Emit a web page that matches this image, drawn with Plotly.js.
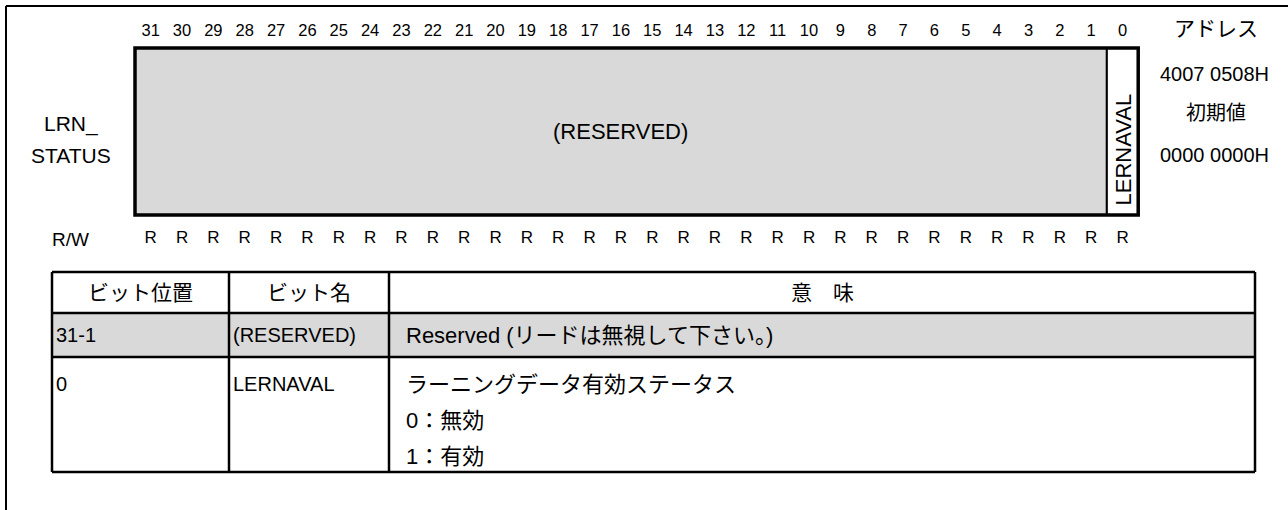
<!DOCTYPE html>
<html>
<head>
<meta charset="utf-8">
<script src="https://cdn.plot.ly/plotly-3.0.1.min.js"></script>
<style>html,body{margin:0;padding:0;background:#fff;}#chart{width:1288px;height:510px;}</style>
</head>
<body>
<div id="chart"></div>
<script>
// ---------- data ----------
const bitNumbers = [31,30,29,28,27,26,25,24,23,22,21,20,19,18,17,16,15,14,13,12,11,10,9,8,7,6,5,4,3,2,1,0];
const bitAccess  = ['R','R','R','R','R','R','R','R','R','R','R','R','R','R','R','R','R','R','R','R','R','R','R','R','R','R','R','R','R','R','R','R'];
const fieldNames    = ['(RESERVED)', 'LERNAVAL'];
const fieldHighBit  = [31, 0];
const fieldLowBit   = [1, 0];
const fieldReserved = [true, false];
const registerName  = ['LRN_', 'STATUS'];
const accessLabel   = 'R/W';
const addressLabel  = 'アドレス';
const addressValue  = '4007 0508H';
const resetLabel    = '初期値';
const resetValue    = '0000 0000H';
const tableHeader   = ['ビット位置', 'ビット名', '意　味'];
const tableBitPos   = ['31-1', '0'];
const tableBitName  = ['(RESERVED)', 'LERNAVAL'];
const tableMeaning  = [
  ['Reserved (リードは無視して下さい。)'],
  ['ラーニングデータ有効ステータス', '0：無効', '1：有効']
];
const tableRowGray  = [true, false];

// ---------- layout constants ----------
const FONT = '"Liberation Sans", Arial, "Noto Sans CJK JP", sans-serif';
const GRAY = '#d9d9d9';
const regLeft = 135, pitch = 31.35, regTop = 48, regBottom = 215;
const slotLeft = b => regLeft + (31 - b) * pitch;
const slotCenter = b => regLeft + (31 - b + 0.5) * pitch;
const colX = [52, 229, 389, 1255];
const rowY = [272, 313, 357, 472];

const shapes = [];
const annotations = [];
const txt = (x, y, text, size, extra) => annotations.push(Object.assign(
  {x:x, y:y, text:text, showarrow:false, font:{family:FONT, size:size, color:'#000'}}, extra || {}));

// outer frame (top and left edges)
shapes.push({type:'line', x0:6, y0:6, x1:1288, y1:6, line:{color:'#000', width:2}});
shapes.push({type:'line', x0:6, y0:6, x1:6, y1:510, line:{color:'#000', width:2}});

// register fields
fieldNames.forEach((name, i) => {
  const x0 = slotLeft(fieldHighBit[i]);
  const x1 = slotLeft(fieldLowBit[i]) + pitch;
  shapes.push({type:'rect', x0:x0, x1:x1, y0:regTop, y1:regBottom,
    fillcolor: fieldReserved[i] ? GRAY : '#fff', line:{color:'#000', width:2}, layer:'below'});
  const vertical = fieldHighBit[i] === fieldLowBit[i];
  if (vertical) txt((x0+x1)/2, 150, name, 22, {textangle:-90});
  else txt((x0+x1)/2, (regTop+regBottom)/2, name, 22);
});
// thick register outline
shapes.push({type:'rect', x0:slotLeft(31), x1:slotLeft(0)+pitch, y0:regTop, y1:regBottom,
  line:{color:'#000', width:3.5}, fillcolor:'rgba(0,0,0,0)'});

// register name / access label
txt(71, 124, registerName[0], 21);
txt(71, 155, registerName[1], 21);
txt(70, 239, accessLabel, 19);

// right column
txt(1216, 28, addressLabel, 21);
txt(1214, 74, addressValue, 20);
txt(1216, 113, resetLabel, 20);
txt(1214, 155, resetValue, 20);

// table
tableRowGray.forEach((g, r) => {
  if (g) shapes.push({type:'rect', x0:colX[0], x1:colX[3], y0:rowY[r+1], y1:rowY[r+2], fillcolor:GRAY, line:{width:0}, layer:'below'});
});
rowY.forEach(y => shapes.push({type:'line', x0:colX[0], x1:colX[3], y0:y, y1:y, line:{color:'#000', width:2.5}}));
colX.forEach(x => shapes.push({type:'line', x0:x, x1:x, y0:rowY[0], y1:rowY[rowY.length-1], line:{color:'#000', width:2.5}}));

tableHeader.forEach((t, c) => txt((colX[c]+colX[c+1])/2, (rowY[0]+rowY[1])/2, t, 21));
tableMeaning.forEach((lines, r) => {
  const top = rowY[r+1], bot = rowY[r+2];
  const firstY = lines.length === 1 ? (top+bot)/2 : top + 27;
  const step = 36;
  txt(colX[0]+2, firstY, tableBitPos[r], 20, {xanchor:'left'});
  txt(colX[1]+2, firstY, tableBitName[r], 20, {xanchor:'left'});
  lines.forEach((t, k) => txt(colX[2]+15, firstY + k*step, t, 22, {xanchor:'left'}));
});

// bit numbers and access row via text traces
const traces = [
  {type:'scatter', mode:'text', x:bitNumbers.map(slotCenter), y:bitNumbers.map(() => 32),
   text:bitNumbers.map(String), textfont:{family:FONT, size:16.5, color:'#000'}, hoverinfo:'skip'},
  {type:'scatter', mode:'text', x:bitNumbers.map(slotCenter), y:bitNumbers.map(() => 239),
   text:bitAccess, textfont:{family:FONT, size:17, color:'#000'}, hoverinfo:'skip'}
];

const layout = {
  width:1288, height:510, margin:{l:0, r:0, t:0, b:0},
  paper_bgcolor:'#fff', plot_bgcolor:'#fff', showlegend:false,
  xaxis:{range:[0,1288], visible:false, fixedrange:true},
  yaxis:{range:[510,0], visible:false, fixedrange:true},
  shapes:shapes, annotations:annotations
};
Plotly.newPlot('chart', traces, layout, {staticPlot:true, displayModeBar:false});
</script>
</body>
</html>
